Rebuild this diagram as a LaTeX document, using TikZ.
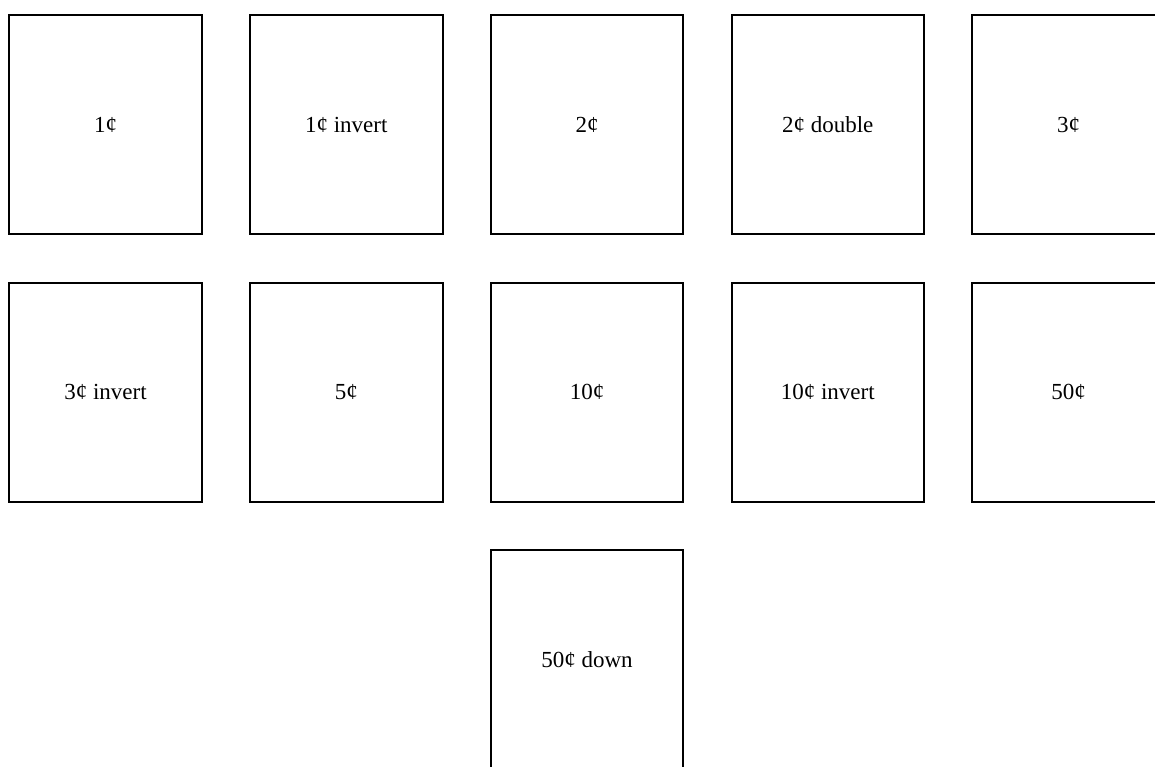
\documentclass[tikz,border=0pt]{standalone}
\usepackage{fontspec}
\setmainfont{Liberation Serif}
\begin{document}
\begin{tikzpicture}[x=1pt,y=-1pt,
  coin/.style={draw=black, line width=2pt, minimum width=192.5pt, minimum height=219pt, inner sep=0pt, anchor=north west, font=\fontsize{23}{26}\selectfont}]
\useasboundingbox (0,0) rectangle (1155,766);
\node[coin] (a1) at (8.3,14) {1¢};
\node[coin] (a2) at (249,14) {1¢ invert};
\node[coin] (a3) at (489.8,14) {2¢};
\node[coin] (a4) at (730.5,14) {2¢ double};
\node[coin] (a5) at (971.3,14) {3¢};
\node[coin] (b1) at (8.3,281.5) {3¢ invert};
\node[coin] (b2) at (249,281.5) {5¢};
\node[coin] (b3) at (489.8,281.5) {10¢};
\node[coin] (b4) at (730.5,281.5) {10¢ invert};
\node[coin] (b5) at (971.3,281.5) {50¢};
\node[coin] (c3) at (489.8,549) {50¢ down};
\end{tikzpicture}
\end{document}
